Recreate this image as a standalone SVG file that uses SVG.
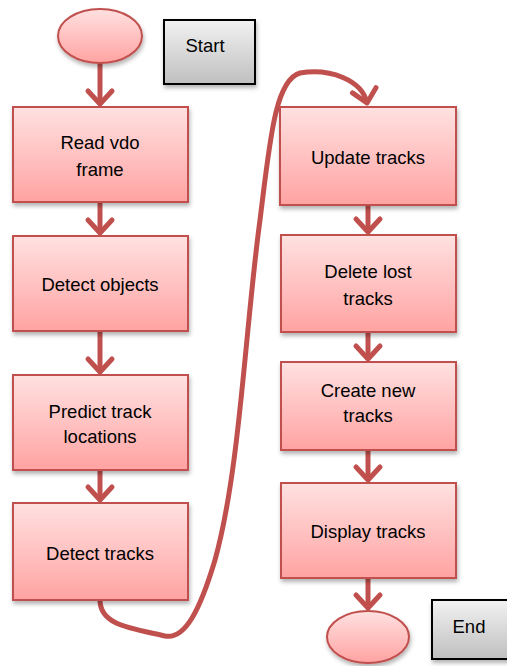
<svg xmlns="http://www.w3.org/2000/svg" width="507" height="666" viewBox="0 0 507 666">
<style>
.box{fill:url(#pink);stroke:#C0504D;stroke-width:2;filter:url(#sh)}
.lbl{stroke:#000;stroke-width:2;fill:url(#gray);filter:url(#sh)}
text{font-family:"Liberation Sans",Arial,sans-serif;font-size:18.5px;fill:#000;text-anchor:middle}
.con{fill:none;stroke:#C0504D;stroke-width:5;marker-end:url(#ah)}
</style>
<defs>
<linearGradient id="pink" x1="0" y1="0" x2="0" y2="1"><stop offset="0" stop-color="#FFE1E1"/><stop offset="1" stop-color="#FFA3A2"/></linearGradient>
<linearGradient id="gray" x1="0" y1="0" x2="0" y2="1"><stop offset="0" stop-color="#F2F2F2"/><stop offset="1" stop-color="#BFBFBF"/></linearGradient>
<filter id="sh" x="-10%" y="-10%" width="125%" height="130%"><feDropShadow dx="1" dy="3" stdDeviation="2" flood-color="#000" flood-opacity="0.3"/></filter>
<marker id="ah" markerUnits="userSpaceOnUse" viewBox="-20 -20 40 40" markerWidth="40" markerHeight="40" refX="0" refY="0" orient="auto" overflow="visible">
<path d="M-13,-12 L0,0 L-13,12" fill="none" stroke="#C0504D" stroke-width="5" stroke-linejoin="round" stroke-linecap="round"/>
</marker>
</defs>
<g id="connectors">
<path class="con" d="M100,63 L100,104"/>
<path class="con" d="M100,202 L100,233"/>
<path class="con" d="M100,331 L100,372"/>
<path class="con" d="M100,470 L100,500"/>
<path class="con" d="M100,600 C100,625 130,628 165,636 C185,640 200,610 215,560 C240,470 245,330 260,220 C270,140 275,80 300,73 C330,68 362,80 367,103"/>
<path class="con" d="M368,205 L368,232"/>
<path class="con" d="M368,332 L368,359"/>
<path class="con" d="M368,450 L368,480"/>
<path class="con" d="M368,578 L368,608"/>
</g>
<g id="start"><ellipse class="box" cx="100" cy="36" rx="42" ry="27"/></g>
<g id="start-label"><rect class="lbl" x="164" y="20" width="91" height="64"/><text x="205" y="52">Start</text></g>
<g id="read"><rect class="box" x="13" y="107" width="175" height="95"/><text x="100" y="149">Read vdo</text><text x="100" y="176">frame</text></g>
<g id="detect-objects"><rect class="box" x="13" y="236" width="175" height="95"/><text x="100" y="291">Detect objects</text></g>
<g id="predict"><rect class="box" x="13" y="375" width="175" height="95"/><text x="100" y="418">Predict track</text><text x="100" y="443">locations</text></g>
<g id="detect-tracks"><rect class="box" x="13" y="503" width="175" height="97"/><text x="100" y="560">Detect tracks</text></g>
<g id="update"><rect class="box" x="280" y="107" width="176" height="98"/><text x="368" y="164">Update tracks</text></g>
<g id="delete"><rect class="box" x="281" y="235" width="175" height="97"/><text x="368" y="278">Delete lost</text><text x="368" y="305">tracks</text></g>
<g id="create"><rect class="box" x="281" y="362" width="175" height="88"/><text x="368" y="397">Create new</text><text x="368" y="422">tracks</text></g>
<g id="display"><rect class="box" x="281" y="483" width="175" height="95"/><text x="368" y="538">Display tracks</text></g>
<g id="end"><ellipse class="box" cx="368" cy="637" rx="41" ry="26"/></g>
<g id="end-label"><rect class="lbl" x="432" y="600" width="91" height="59"/><text x="469" y="633">End</text></g>
</svg>
